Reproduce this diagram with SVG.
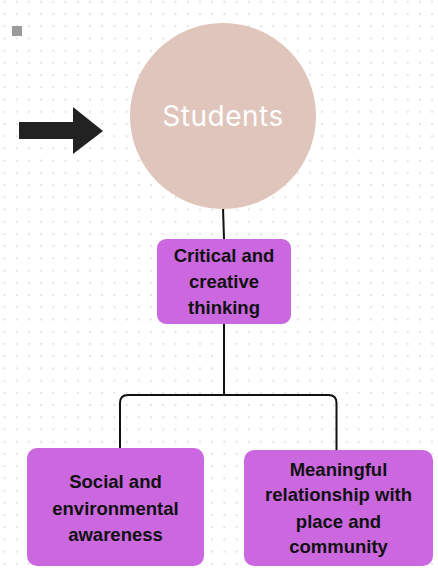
<svg xmlns="http://www.w3.org/2000/svg" width="438" height="568" viewBox="0 0 438 568">
  <defs>
    <pattern id="dots" patternUnits="userSpaceOnUse" x="15.7" y="13" width="12.22" height="12.22">
      <rect x="0" y="0" width="2" height="2" fill="#e3e3e3"/>
    </pattern>
  </defs>
  <style>
    .box { fill: #cb68e0; }
    .lbl { font-family: "Liberation Sans", Arial, sans-serif; font-weight: bold; font-size: 18.5px; fill: #111; text-anchor: middle; }
    .title { font-family: Inter, "Open Sans", sans-serif; font-size: 28px; fill: #ffffff; text-anchor: middle; letter-spacing: 0.5px; }
    .wire { fill: none; stroke: #111; stroke-width: 2; }
  </style>

  <!-- background with dot grid -->
  <rect width="438" height="568" fill="#ffffff"/>
  <rect width="438" height="568" fill="url(#dots)"/>
  <rect x="12" y="26" width="10" height="10" fill="#9a9a9a"/>

  <!-- pointer arrow -->
  <polygon points="19,122 73,122 73,107 103,131 73,154 73,139 19,139" fill="#222222"/>

  <g id="connectors">
    <line class="wire" x1="223" y1="208" x2="224" y2="239"/>
    <line class="wire" x1="224" y1="324" x2="224" y2="395"/>
    <path class="wire" d="M120,449 V403 Q120,395 128,395 H328.5 Q336.5,395 336.5,403 V450"/>
  </g>

  <g id="students">
    <circle cx="223" cy="116" r="93" fill="#dfc5bb"/>
    <text class="title" x="223" y="126">Students</text>
  </g>

  <g id="critical">
    <rect class="box" x="157" y="239" width="134" height="85" rx="9"/>
    <text class="lbl" x="224" y="262">Critical and</text>
    <text class="lbl" x="224" y="288">creative</text>
    <text class="lbl" x="224" y="314">thinking</text>
  </g>

  <g id="social">
    <rect class="box" x="27" y="448" width="177" height="118" rx="10"/>
    <text class="lbl" x="115.5" y="488">Social and</text>
    <text class="lbl" x="115.5" y="514.5">environmental</text>
    <text class="lbl" x="115.5" y="541">awareness</text>
  </g>

  <g id="meaningful">
    <rect class="box" x="244" y="450" width="189" height="116" rx="10"/>
    <text class="lbl" x="338.5" y="475.5">Meaningful</text>
    <text class="lbl" x="338.5" y="501">relationship with</text>
    <text class="lbl" x="338.5" y="527.5">place and</text>
    <text class="lbl" x="338.5" y="553">community</text>
  </g>
</svg>
